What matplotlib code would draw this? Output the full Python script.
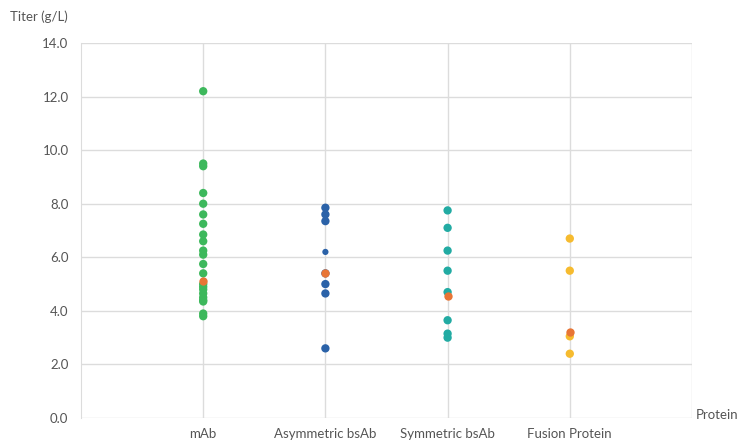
import matplotlib
import numpy as np

matplotlib.use("Agg")
import matplotlib.pyplot as plt

plt.rcParams["font.family"] = ["Lato", "DejaVu Sans"]

categories = ["mAb", "Asymmetric bsAb", "Symmetric bsAb", "Fusion Protein"]
colors = ["#3db85c", "#2b62a8", "#22aba3", "#f6bb2f"]
mean_color = "#e87535"

mab = [12.2, 9.5, 9.4, 8.4, 8.0, 7.6, 7.25, 6.85, 6.6, 6.25, 6.1, 5.75,
       5.4, 5.0, 4.9, 4.8, 4.65, 4.5, 4.4, 4.35, 3.9, 3.8]
asym_bsab = [7.85, 7.6, 7.35, 6.2, 5.4, 5.0, 4.65, 2.6]
sym_bsab = [7.75, 7.1, 6.25, 5.5, 4.7, 3.65, 3.15, 3.0]
fusion = [6.7, 5.5, 3.05, 2.4]
series = [mab, asym_bsab, sym_bsab, fusion]

# one small point in the asymmetric group
small_points = [(2, 6.2)]

means = [5.1, 5.4, 4.55, 3.2]
y_ticks = [0, 2, 4, 6, 8, 10, 12, 14]

fig = plt.figure(figsize=(7.39, 4.41), dpi=100)
ax = fig.add_axes([81 / 739, 1 - 418 / 441, (692 - 81) / 739, (418 - 43) / 441])

for i, (vals, col) in enumerate(zip(series, colors)):
    sizes = [20 if (i + 1, v) in small_points else 36 for v in vals]
    ax.scatter([i + 1] * len(vals), vals, s=sizes, color=col, zorder=3, linewidths=0)
    ax.scatter([i + 1], [means[i]], s=36, color=mean_color, zorder=4, linewidths=0)

ax.set_xlim(0, 5)
ax.set_ylim(0, 14)
ax.set_yticks(y_ticks)
ax.set_yticklabels([f"{v:.1f}" for v in y_ticks])
ax.set_xticks([1, 2, 3, 4])
ax.set_xticklabels(categories)
ax.set_xticks([5], minor=True)
ax.grid(True, which="both", color="#dcdcdc", linewidth=1)
ax.set_axisbelow(True)
for s in ["top", "right", "bottom"]:
    ax.spines[s].set_visible(False)
ax.spines["left"].set_color("#dcdcdc")
ax.tick_params(which="both", length=0, colors="#555555", labelsize=9.5)
ax.tick_params(axis="y", pad=9)
ax.tick_params(axis="x", pad=7)

fig.text(10 / 739, 1 - 17 / 441, "Titer (g/L)", fontsize=9.5, color="#555555",
         va="center", ha="left")
fig.text(738 / 739, 1 - 415 / 441, "Protein", fontsize=9.5, color="#555555",
         va="center", ha="right")

fig.savefig("out.png", dpi=100)
